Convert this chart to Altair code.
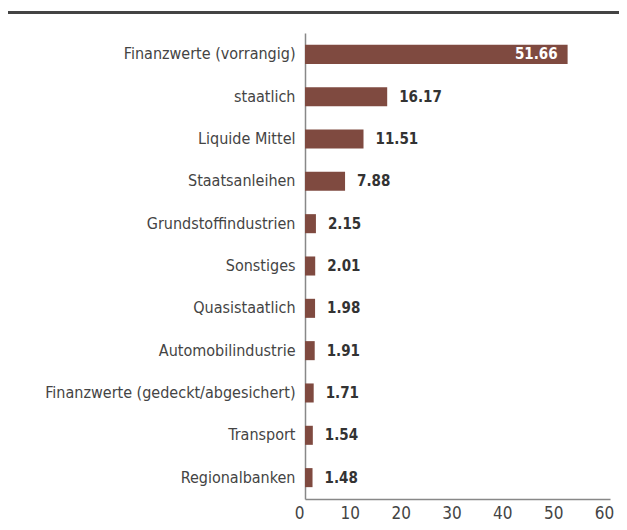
import altair as alt
import pandas as pd

categories = [
    "Finanzwerte (vorrangig)", "staatlich", "Liquide Mittel", "Staatsanleihen",
    "Grundstoffindustrien", "Sonstiges", "Quasistaatlich", "Automobilindustrie",
    "Finanzwerte (gedeckt/abgesichert)", "Transport", "Regionalbanken",
]
values = [51.66, 16.17, 11.51, 7.88, 2.15, 2.01, 1.98, 1.91, 1.71, 1.54, 1.48]
x_ticks = [0, 10, 20, 30, 40, 50, 60]

df = pd.DataFrame({"cat": categories, "val": values})
df["lbl"] = df["val"].map(lambda v: f"{v:.2f}")

FONT = "'Liberation Sans Narrow', 'DejaVu Sans Condensed', 'Roboto Condensed', 'Open Sans', sans-serif"
W, H = 305, 466

y = alt.Y("cat:N", sort=categories, title=None,
          scale=alt.Scale(paddingInner=0.55, paddingOuter=0.28),
          axis=alt.Axis(ticks=False, labelPadding=10, labelFontSize=16,
                        labelColor="#444", labelFont=FONT, domainColor="#888",
                        domainWidth=1.5, labelLimit=400))
x = alt.X("val:Q", title=None,
          scale=alt.Scale(domain=[0, 60], nice=False),
          axis=alt.Axis(values=x_ticks, ticks=False, grid=False, labelFontSize=17,
                        labelColor="#444", labelFont=FONT, domainColor="#888",
                        domainWidth=1.5, labelPadding=6, labelOffset=-6,
                        labelFlush=False))

bars = alt.Chart(df).mark_bar(color="#7f4a40").encode(x=x, y=y)

outside = alt.Chart(df).transform_filter("datum.val < 40").mark_text(
    align="left", dx=12, fontSize=15, fontWeight="bold", color="#333", font=FONT
).encode(x="val:Q", y=alt.Y("cat:N", sort=categories), text="lbl:N")

inside = alt.Chart(df).transform_filter("datum.val >= 40").mark_text(
    align="right", dx=-10, fontSize=15, fontWeight="bold", color="white", font=FONT
).encode(x="val:Q", y=alt.Y("cat:N", sort=categories), text="lbl:N")

topline = alt.Chart(pd.DataFrame({"a": [0]})).mark_rule(color="#444", strokeWidth=3).encode(
    x=alt.value(-300), x2=alt.value(330), y=alt.value(-20.5)
)

chart = alt.layer(bars, outside, inside, topline).properties(
    width=W, height=H,
    padding={"left": 297, "top": 25, "right": 9, "bottom": 22},
    autosize=alt.AutoSizeParams(type="none"),
).configure_view(stroke=None)

chart.save("out.html", embed_options={"renderer": "svg", "actions": False})
